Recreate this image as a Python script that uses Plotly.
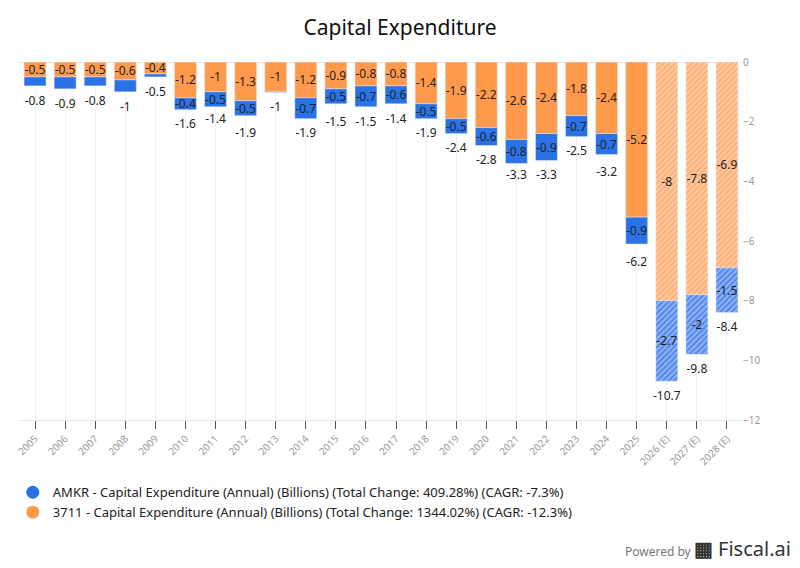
import plotly.graph_objects as go

years = ['2005', '2006', '2007', '2008', '2009', '2010', '2011', '2012', '2013', '2014',
         '2015', '2016', '2017', '2018', '2019', '2020', '2021', '2022', '2023', '2024',
         '2025', '2026 (E)', '2027 (E)', '2028 (E)']
tw_3711 = [-0.5, -0.5, -0.5, -0.6, -0.4, -1.2, -1.0, -1.3, -1.0, -1.2, -0.9, -0.8, -0.8,
           -1.4, -1.9, -2.2, -2.6, -2.4, -1.8, -2.4, -5.2, -8.0, -7.8, -6.9]
amkr = [-0.3, -0.4, -0.3, -0.4, -0.1, -0.4, -0.5, -0.5, -0.02, -0.7, -0.5, -0.7, -0.6,
        -0.5, -0.5, -0.6, -0.8, -0.9, -0.7, -0.7, -0.9, -2.7, -2.0, -1.5]
totals = [-0.8, -0.9, -0.8, -1.0, -0.5, -1.6, -1.4, -1.9, -1.0, -1.9, -1.5, -1.5, -1.4,
          -1.9, -2.4, -2.8, -3.3, -3.3, -2.5, -3.2, -6.2, -10.7, -9.8, -8.4]
estimate = [y.endswith('(E)') for y in years]

ORANGE = '#FF9A4D'
BLUE = '#2A72E6'

def fmt(v):
    return ('%.1f' % v).rstrip('0').rstrip('.')

# small blue segments carry no label in the original
amkr_txt = [fmt(v) if abs(v) >= 0.4 and i not in (1, 3) else '' for i, v in enumerate(amkr)]

def bar_marker(color, light, dark):
    return dict(color=color,
                pattern=dict(shape=['/' if e else '' for e in estimate],
                             fillmode='replace', bgcolor=light, fgcolor=dark,
                             size=4, solidity=0.5))

fig = go.Figure()

fig.add_trace(go.Bar(
    x=years, y=tw_3711, name='3711',
    marker=bar_marker(ORANGE, '#FFCBA3', '#FFAE75'),
    text=[fmt(v) for v in tw_3711], textposition='inside', insidetextanchor='middle',
    textfont=dict(color='#222', size=12), textangle=0, constraintext='none',
    showlegend=False, hoverinfo='skip'))

fig.add_trace(go.Bar(
    x=years, y=amkr, name='AMKR',
    marker=bar_marker(BLUE, '#92B5F3', '#4F86EC'),
    text=amkr_txt, textposition='inside', insidetextanchor='middle',
    textfont=dict(color='#222', size=12), textangle=0, constraintext='none',
    showlegend=False, hoverinfo='skip'))

# totals under each stack (invisible marker gives the gap)
fig.add_trace(go.Scatter(
    x=years, y=totals, mode='markers+text', text=[fmt(v) for v in totals],
    marker=dict(size=14, color='rgba(0,0,0,0)'),
    textposition='bottom center', textfont=dict(color='#222', size=12),
    showlegend=False, hoverinfo='skip'))

# legend entries with round markers
fig.add_trace(go.Scatter(
    x=[years[0]], y=[None], mode='markers', marker=dict(color=BLUE, size=13),
    name='AMKR - Capital Expenditure (Annual) (Billions) (Total Change: 409.28%) (CAGR: -7.3%)'))
fig.add_trace(go.Scatter(
    x=[years[0]], y=[None], mode='markers', marker=dict(color=ORANGE, size=13),
    name='3711 - Capital Expenditure (Annual) (Billions) (Total Change: 1344.02%) (CAGR: -12.3%)'))

fig.update_layout(
    width=800, height=568,
    barmode='relative', bargap=0.27,
    plot_bgcolor='white', paper_bgcolor='white',
    font=dict(family='Noto Sans', color='#222'),
    title=dict(text='Capital Expenditure', x=0.5, xanchor='center',
               y=0.952, yanchor='middle', yref='container',
               font=dict(size=21, color='#111')),
    margin=dict(l=20, r=58, t=62, b=148, autoexpand=False),
    legend=dict(x=-0.01, y=-0.16, xanchor='left', yanchor='top',
                font=dict(size=13, color='#222'), tracegroupgap=2),
    uniformtext=dict(minsize=8, mode='show'),
)

fig.update_xaxes(
    type='category', range=[-0.5, len(years) - 0.5],
    tickangle=-45, tickfont=dict(size=10, color='#999'),
    ticks='outside', ticklen=8, tickcolor='#555', tickwidth=1,
    showgrid=True, gridcolor='#f0f0f0', showline=True, linecolor='#e6e6e6')
fig.update_yaxes(
    side='right', range=[-12, 0], dtick=2, tickfont=dict(size=10, color='#999'),
    showgrid=False, zeroline=True, zerolinecolor='#e6e6e6', zerolinewidth=1)

fig.add_annotation(
    xref='paper', yref='paper', x=1.071, y=-0.36, xanchor='right', yanchor='middle',
    text="<span style='font-size:12px;color:#777'>Powered by </span>"
         "<span style='font-size:20px;color:#333'><b>&#9638;</b> Fiscal.ai</span>",
    showarrow=False)

fig.write_html('out.html', config={'displayModeBar': False},
               post_script="document.body.style.margin='0';")
